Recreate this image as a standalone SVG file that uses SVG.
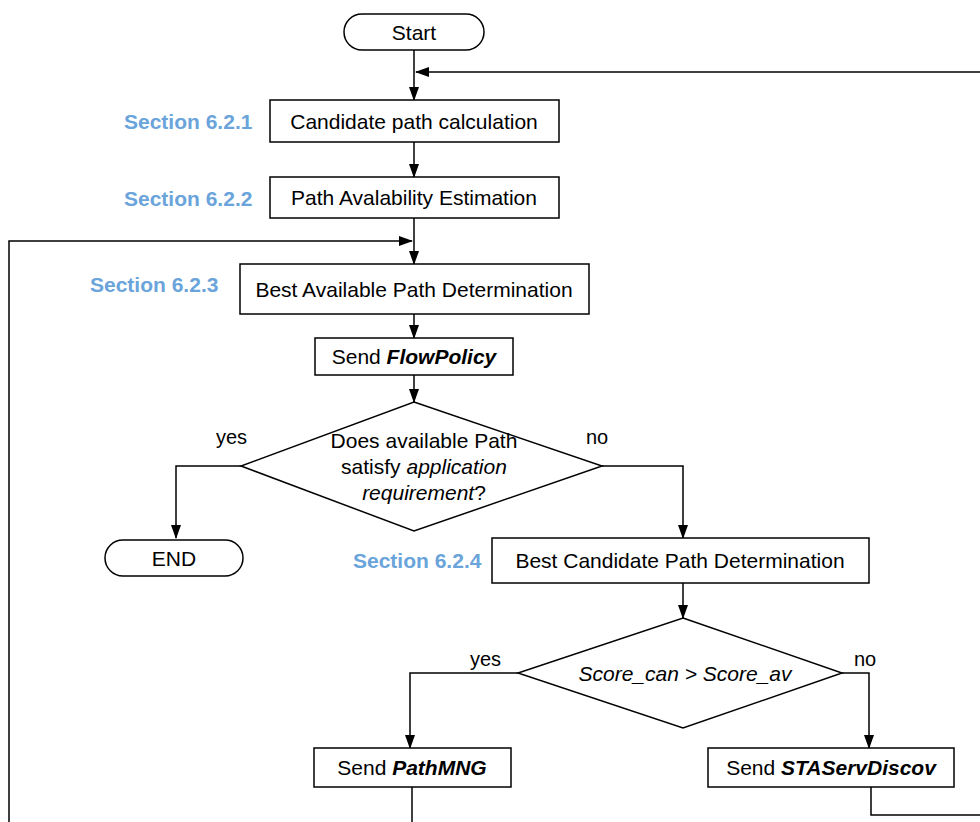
<svg xmlns="http://www.w3.org/2000/svg" width="980" height="822" viewBox="0 0 980 822">
<defs>
<style>
.box{fill:#fff;stroke:#000;stroke-width:1.5}
.t{font-family:"Liberation Sans",Arial,sans-serif;font-size:21px;fill:#000;text-anchor:middle}
.sec{font-family:"Liberation Sans",Arial,sans-serif;font-size:21px;font-weight:bold;fill:#6aa4da}
.lbl{font-family:"Liberation Sans",Arial,sans-serif;font-size:20px;fill:#000}
.c{fill:none;stroke:#000;stroke-width:1.5}
</style>
<marker id="ah" markerWidth="14" markerHeight="12" refX="13" refY="5" orient="auto" markerUnits="userSpaceOnUse" viewBox="0 0 14 10">
<path d="M0,0 L14,5 L0,10 Z" fill="#000"/>
</marker>
</defs>
<rect width="980" height="822" fill="#fff"/>
<g id="connectors">
<path class="c" d="M414,50 V100" marker-end="url(#ah)"/>
<path class="c" d="M980,72 H416" marker-end="url(#ah)"/>
<path class="c" d="M414,142 V177" marker-end="url(#ah)"/>
<path class="c" d="M414,218 V264" marker-end="url(#ah)"/>
<path class="c" d="M9,822 V241 H412" marker-end="url(#ah)"/>
<path class="c" d="M414,314 V338" marker-end="url(#ah)"/>
<path class="c" d="M414,375 V402" marker-end="url(#ah)"/>
<path class="c" d="M241,466 H176 V538" marker-end="url(#ah)"/>
<path class="c" d="M602,466 H683 V538" marker-end="url(#ah)"/>
<path class="c" d="M683,583 V618" marker-end="url(#ah)"/>
<path class="c" d="M518,673 H410 V748" marker-end="url(#ah)"/>
<path class="c" d="M842,673 H869 V748" marker-end="url(#ah)"/>
<path class="c" d="M412,787 V822"/>
<path class="c" d="M871,787 V815 H980"/>
</g>
<g id="start">
<rect class="box" x="344" y="14" width="140" height="36" rx="18"/>
<text class="t" x="414" y="40">Start</text>
</g>
<g id="sec621"><text class="sec" x="124" y="129">Section 6.2.1</text></g>
<g id="candidate">
<rect class="box" x="270" y="100" width="289" height="42"/>
<text class="t" x="414" y="129">Candidate path calculation</text>
</g>
<g id="sec622"><text class="sec" x="124" y="206">Section 6.2.2</text></g>
<g id="availability">
<rect class="box" x="270" y="177" width="289" height="41"/>
<text class="t" x="414" y="205">Path Avalability Estimation</text>
</g>
<g id="sec623"><text class="sec" x="90" y="292">Section 6.2.3</text></g>
<g id="bestavail">
<rect class="box" x="240" y="264" width="349" height="50"/>
<text class="t" x="414" y="297">Best Available Path Determination</text>
</g>
<g id="flowpolicy">
<rect class="box" x="315" y="338" width="198" height="37"/>
<text class="t" x="414" y="364">Send <tspan font-weight="bold" font-style="italic">FlowPolicy</tspan></text>
</g>
<g id="decision1">
<polygon class="box" points="414,402 602,466 414,531 241,466"/>
<text class="t" x="424" y="448">Does available Path</text>
<text class="t" x="424" y="474">satisfy <tspan font-style="italic">application</tspan></text>
<text class="t" x="424" y="500"><tspan font-style="italic">requirement</tspan>?</text>
<text class="lbl" x="216" y="444">yes</text>
<text class="lbl" x="586" y="444">no</text>
</g>
<g id="end">
<rect class="box" x="105" y="540" width="138" height="36" rx="18"/>
<text class="t" x="174" y="566">END</text>
</g>
<g id="sec624"><text class="sec" x="353" y="568">Section 6.2.4</text></g>
<g id="bestcand">
<rect class="box" x="492" y="538" width="377" height="45"/>
<text class="t" x="680" y="568">Best Candidate Path Determination</text>
</g>
<g id="decision2">
<polygon class="box" points="683,618 842,673 683,728 518,673"/>
<text class="t" x="685" y="681" font-style="italic">Score_can &gt; Score_av</text>
<text class="lbl" x="470" y="666">yes</text>
<text class="lbl" x="854" y="666">no</text>
</g>
<g id="pathmng">
<rect class="box" x="314" y="748" width="197" height="39"/>
<text class="t" x="412" y="775">Send <tspan font-weight="bold" font-style="italic">PathMNG</tspan></text>
</g>
<g id="staservdiscov">
<rect class="box" x="708" y="748" width="246" height="39"/>
<text class="t" x="831" y="775">Send <tspan font-weight="bold" font-style="italic">STAServDiscov</tspan></text>
</g>
</svg>
